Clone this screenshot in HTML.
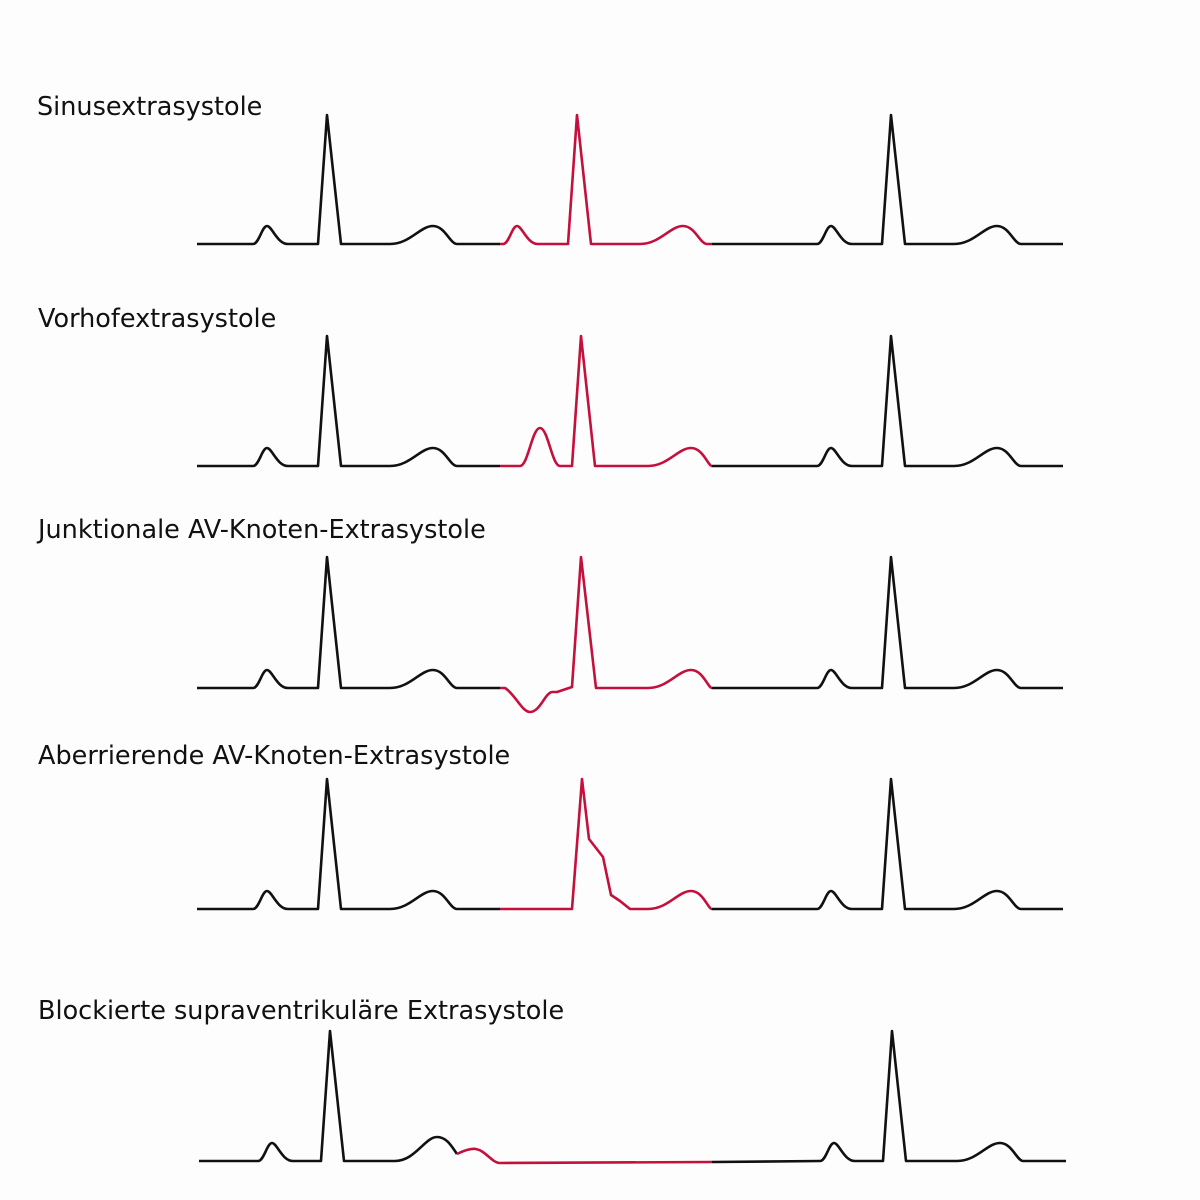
<!DOCTYPE html>
<html><head><meta charset="utf-8"><style>
html,body{margin:0;padding:0;background:#fdfdfd;}
svg{display:block}
text{font-family:"DejaVu Sans","Liberation Sans",sans-serif;font-size:25.5px;fill:#111}
</style></head><body>
<svg id="s" width="1200" height="1200" viewBox="0 0 1200 1200" xmlns="http://www.w3.org/2000/svg">
<text x="37" y="115">Sinusextrasystole</text>
<text x="38" y="327">Vorhofextrasystole</text>
<text x="38" y="538">Junktionale AV-Knoten-Extrasystole</text>
<text x="38" y="764">Aberrierende AV-Knoten-Extrasystole</text>
<text x="38" y="1019">Blockierte supraventrikuläre Extrasystole</text>
</svg>
<script>
var s=document.getElementById('s');
function P(ps,b,h){return ' L'+ps+','+b+' C'+(ps+6)+','+b+' '+(ps+9)+','+(b-h)+' '+(ps+14)+','+(b-h)+' C'+(ps+19)+','+(b-h)+' '+(ps+24)+','+b+' '+(ps+35)+','+b;}
function T(ts,b,w){return ' L'+ts+','+b+' C'+(ts+20)+','+b+' '+(ts+30)+','+(b-18)+' '+(ts+43)+','+(b-18)+' C'+(ts+55)+','+(b-18)+' '+(ts+60)+','+b+' '+(ts+w)+','+b;}
function R(rs,b,top){return ' L'+rs+','+b+' L'+(rs+9)+','+top+' L'+(rs+23)+','+b;}
function beat(ps,b,top){return P(ps,b,18)+R(ps+65,b,top)+T(ps+137,b,67);}
function path(d,c){var p=document.createElementNS('http://www.w3.org/2000/svg','path');p.setAttribute('d',d);p.setAttribute('fill','none');p.setAttribute('stroke',c);p.setAttribute('stroke-width','2.6');p.setAttribute('stroke-linejoin','round');s.appendChild(p);}
var K='#111',RED='#c4103c';
var rows=[[244,115],[466,336],[688,557],[909,779]];
rows.forEach(function(r,i){var b=r[0],t=r[1];
 path('M197,'+b+beat(253,b,t)+' L500,'+b,K);
 path('M712,'+b+beat(817,b,t)+' L1063,'+b,K);
 var d;
 if(i==0){d='M500,'+b+' L503,'+b+beat(503,b,t)+' L712,'+b;}
 if(i==1){d='M500,'+b+' L520,'+b+' C528,'+b+' 532,'+(b-38)+' 540,'+(b-38)+' C548,'+(b-38)+' 552,'+b+' 560,'+b+R(572,b,t)+T(648,b,64)+' L712,'+b;}
 if(i==2){d='M500,'+b+' L505,'+b+' C515,'+(b+6)+' 522,'+(b+24)+' 530,'+(b+24)+' C540,'+(b+24)+' 545,'+(b+5)+' 552,'+(b+4)+' L557,'+(b+4)+' L572,'+(b-1)+' L581,'+t+' L596,'+b+T(648,b,64)+' L712,'+b;}
 if(i==3){d='M500,'+b+' L572,'+b+' L582,'+t+' L589,'+(t+60)+' L603,'+(t+78)+' L611,'+(b-14)+' L620,'+(b-8)+' L630,'+b+T(648,b,64)+' L712,'+b;}
 path(d,RED);
});
var b=1161;
path('M199,'+b+P(258,b,18)+R(321,b,1031)+' L395,'+b+' C415,'+b+' 425,'+(b-24)+' 437,'+(b-24)+' C447,'+(b-24)+' 452,'+(b-14)+' 457,'+(b-7),K);
path('M457,'+(b-7)+' C463,'+(b-10)+' 470,'+(b-13)+' 476,'+(b-12)+' C486,'+(b-10)+' 492,'+(b+2)+' 500,'+(b+2)+' L712,'+(b+1),RED);
path('M712,'+(b+1)+' L820,'+b+P(820,b,18)+R(883,b,1031)+T(957,b,66)+' L1066,'+b,K);
</script>
</body></html>
